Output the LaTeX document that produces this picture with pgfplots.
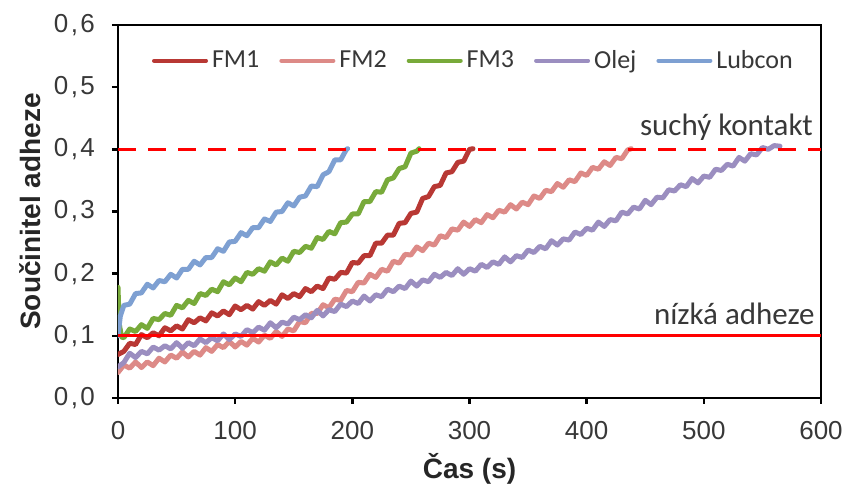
\documentclass[border=0pt]{standalone}
\usepackage{pgfplots}
\pgfplotsset{compat=1.18}
\usepackage{fontspec}
\setmainfont{Liberation Sans}
\newfontfamily\calib{Carlito}

\definecolor{cFMa}{RGB}{184,56,52}
\definecolor{cFMb}{RGB}{221,138,135}
\definecolor{cFMc}{RGB}{120,170,58}
\definecolor{cOlej}{RGB}{155,142,192}
\definecolor{cLub}{RGB}{126,160,210}
\definecolor{txt}{RGB}{56,56,56}

\begin{document}
\begin{tikzpicture}
\begin{axis}[
  scale only axis,
  width=351.5pt, height=186.5pt,
  xmin=0, xmax=600, ymin=0, ymax=0.6,
  xtick={0,100,200,300,400,500,600},
  ytick={0,0.1,0.2,0.3,0.4,0.5,0.6},
  axis line style={black, line width=1.3pt},
  tick style={black, line width=1.3pt},
  tick align=outside,
  major tick length=3pt,
  xtick pos=bottom, ytick pos=left,
  /pgf/number format/assume math mode=true,
  /pgf/number format/set decimal separator={{\hspace{1.2pt},\hspace{1.2pt}}},
  yticklabel style={/pgf/number format/fixed, /pgf/number format/fixed zerofill,
    /pgf/number format/precision=1, xshift=-5pt},
  xticklabel style={yshift=-5pt},
  ticklabel style={font=\fontsize{13}{15}\selectfont, text=txt},
  xlabel={Čas (s)},
  ylabel={Součinitel adheze},
  label style={font=\bfseries\fontsize{14}{16}\selectfont, text=black!85},
  xlabel style={at={(axis description cs:0.5,-0.19)}, anchor=center},
  ylabel style={at={(axis description cs:-0.125,0.5)}, anchor=center, rotate=0},
  legend columns=5,
  legend style={draw=none, fill=none, at={(0.507,0.955)}, anchor=north,
    font=\calib\fontsize{13}{15}\selectfont, text=txt,
    /tikz/every even column/.append style={column sep=8pt}},
  legend image code/.code={\draw[#1, line width=2pt] (0pt,0pt) -- (26pt,0pt);},
  every axis plot/.append style={line width=2.5pt, line join=round, line cap=round},
]
% FM1
\addplot[cFMa] coordinates {
(0,0.070) (5,0.075) (10,0.088) (15,0.086) (20,0.102) (25,0.097) (30,0.105) (35,0.100)
(40,0.113) (45,0.108) (50,0.116) (55,0.111) (60,0.126) (65,0.121) (70,0.129) (75,0.124)
(80,0.137) (85,0.132) (90,0.140) (95,0.134) (100,0.148) (105,0.142) (110,0.149) (115,0.143)
(120,0.155) (125,0.149) (130,0.157) (135,0.151) (140,0.166) (145,0.160) (150,0.168) (155,0.163)
(160,0.176) (165,0.171) (170,0.180) (175,0.176) (180,0.193) (185,0.191) (190,0.202) (195,0.201)
(200,0.218) (205,0.217) (210,0.229) (215,0.229) (220,0.249) (225,0.249) (230,0.262) (235,0.262)
(240,0.281) (245,0.282) (250,0.297) (255,0.299) (260,0.321) (265,0.324) (270,0.340) (275,0.342)
(280,0.362) (285,0.364) (290,0.379) (295,0.381) (300,0.400) (303,0.401)
};
\addlegendentry{FM1}
% FM2
\addplot[cFMb] coordinates {
(0,0.041) (5,0.053) (10,0.048) (15,0.058) (20,0.049) (25,0.058) (30,0.052) (35,0.064)
(40,0.058) (45,0.069) (50,0.064) (55,0.074) (60,0.066) (65,0.075) (70,0.069) (75,0.081)
(80,0.075) (85,0.086) (90,0.081) (95,0.091) (100,0.082) (105,0.091) (110,0.085) (115,0.096)
(120,0.090) (125,0.101) (130,0.096) (135,0.107) (140,0.099) (145,0.111) (150,0.108) (155,0.123)
(160,0.121) (165,0.136) (170,0.136) (175,0.150) (180,0.145) (185,0.159) (190,0.157) (195,0.173)
(200,0.171) (205,0.186) (210,0.185) (215,0.199) (220,0.194) (225,0.207) (230,0.204) (235,0.220)
(240,0.217) (245,0.231) (250,0.230) (255,0.243) (260,0.237) (265,0.249) (270,0.246) (275,0.261)
(280,0.258) (285,0.272) (290,0.270) (295,0.283) (300,0.276) (305,0.287) (310,0.282) (315,0.295)
(320,0.290) (325,0.302) (330,0.299) (335,0.311) (340,0.304) (345,0.315) (350,0.311) (355,0.325)
(360,0.321) (365,0.334) (370,0.332) (375,0.345) (380,0.339) (385,0.351) (390,0.348) (395,0.362)
(400,0.358) (405,0.371) (410,0.368) (415,0.380) (420,0.374) (425,0.387) (430,0.385) (435,0.399)
(438,0.401)
};
\addlegendentry{FM2}
% FM3
\addplot[cFMc] coordinates {
(0,0.178) (1,0.120) (3,0.098) (5,0.097) (10,0.111) (15,0.107) (20,0.118) (25,0.112)
(30,0.128) (35,0.126) (40,0.136) (45,0.133) (50,0.149) (55,0.145) (60,0.157) (65,0.152)
(70,0.168) (75,0.165) (80,0.175) (85,0.171) (90,0.187) (95,0.182) (100,0.193) (105,0.187)
(110,0.202) (115,0.199) (120,0.208) (125,0.204) (130,0.219) (135,0.214) (140,0.225) (145,0.220)
(150,0.236) (155,0.234) (160,0.244) (165,0.241) (170,0.258) (175,0.255) (180,0.268) (185,0.264)
(190,0.282) (195,0.283) (200,0.296) (205,0.296) (210,0.316) (215,0.316) (220,0.332) (225,0.331)
(230,0.351) (235,0.354) (240,0.369) (245,0.372) (250,0.394) (255,0.397) (257,0.401)
};
\addlegendentry{FM3}
% Olej
\addplot[cOlej] coordinates {
(0,0.050) (5,0.057) (10,0.072) (15,0.065) (20,0.075) (25,0.071) (30,0.082) (35,0.077)
(40,0.084) (45,0.079) (50,0.089) (55,0.080) (60,0.089) (65,0.084) (70,0.095) (75,0.089)
(80,0.097) (85,0.092) (90,0.103) (95,0.094) (100,0.103) (105,0.099) (110,0.110) (115,0.105)
(120,0.114) (125,0.109) (130,0.121) (135,0.113) (140,0.122) (145,0.119) (150,0.130) (155,0.126)
(160,0.134) (165,0.129) (170,0.141) (175,0.132) (180,0.142) (185,0.139) (190,0.151) (195,0.147)
(200,0.156) (205,0.152) (210,0.164) (215,0.156) (220,0.166) (225,0.163) (230,0.175) (235,0.171)
(240,0.180) (245,0.176) (250,0.188) (255,0.180) (260,0.190) (265,0.187) (270,0.199) (275,0.194)
(280,0.202) (285,0.197) (290,0.208) (295,0.199) (300,0.208) (305,0.204) (310,0.215) (315,0.210)
(320,0.219) (325,0.215) (330,0.227) (335,0.219) (340,0.229) (345,0.226) (350,0.238) (355,0.234)
(360,0.244) (365,0.240) (370,0.253) (375,0.246) (380,0.256) (385,0.254) (390,0.267) (395,0.263)
(400,0.273) (405,0.270) (410,0.283) (415,0.276) (420,0.287) (425,0.285) (430,0.299) (435,0.296)
(440,0.307) (445,0.304) (450,0.318) (455,0.311) (460,0.323) (465,0.322) (470,0.335) (475,0.333)
(480,0.343) (485,0.340) (490,0.353) (495,0.346) (500,0.357) (505,0.355) (510,0.368) (515,0.366)
(520,0.376) (525,0.373) (530,0.387) (535,0.381) (540,0.393) (545,0.391) (550,0.403) (555,0.400)
(560,0.406) (565,0.405)
};
\addlegendentry{Olej}
% Lubcon
\addplot[cLub] coordinates {
(0,0.100) (2,0.132) (5,0.149) (10,0.151) (15,0.168) (20,0.169) (25,0.183) (30,0.177)
(35,0.189) (40,0.187) (45,0.199) (50,0.193) (55,0.207) (60,0.207) (65,0.220) (70,0.214)
(75,0.226) (80,0.226) (85,0.240) (90,0.236) (95,0.251) (100,0.252) (105,0.266) (110,0.261)
(115,0.274) (120,0.274) (125,0.288) (130,0.284) (135,0.299) (140,0.300) (145,0.314) (150,0.309)
(155,0.323) (160,0.325) (165,0.341) (170,0.340) (175,0.359) (180,0.364) (185,0.383) (190,0.383)
(195,0.400) (196,0.401)
};
\addlegendentry{Lubcon}
% reference levels
\addplot[red, line width=1.5pt, dash pattern=on 9pt off 6pt, line cap=butt, forget plot] coordinates {(0,0.4) (600,0.4)};
\addplot[red, line width=1.5pt, line cap=butt, forget plot] coordinates {(0,0.1) (600,0.1)};
\node[anchor=base east, font=\calib\fontsize{15.5}{17}\selectfont, text=txt, inner sep=0pt]
  at (rel axis cs:0.989,0.6667) [yshift=7pt] {suchý kontakt};
\node[anchor=base east, font=\calib\fontsize{15.5}{17}\selectfont, text=txt, inner sep=0pt]
  at (rel axis cs:0.9915,0.1667) [yshift=5.5pt] {nízká adheze};
\end{axis}
\path (current axis.south west) ++(-59pt,-42.5pt) rectangle ++(425pt,241.5pt);
\end{tikzpicture}
\end{document}
